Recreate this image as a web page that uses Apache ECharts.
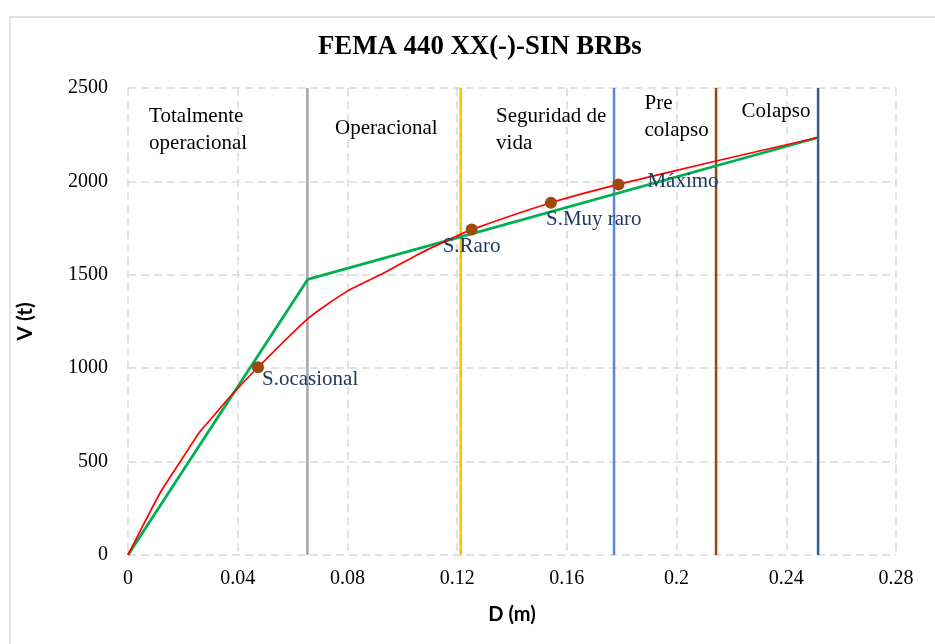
<!DOCTYPE html>
<html>
<head>
<meta charset="utf-8">
<script src="https://cdn.jsdelivr.net/npm/echarts@6/dist/echarts.min.js"></script>
<style>html,body{margin:0;padding:0;background:#fff;}#c{width:935px;height:644px;}</style>
</head>
<body>
<div id="c"></div>
<script>
// Data
var titleText = 'FEMA 440 XX(-)-SIN BRBs';
var xTicks = [0, 0.04, 0.08, 0.12, 0.16, 0.2, 0.24, 0.28];
var yTicks = [0, 500, 1000, 1500, 2000, 2500];
var bilinearD = [0, 0.0655, 0.2516];
var bilinearV = [0, 1475, 2235];
var curveD = [0, 0.0117, 0.0202, 0.0262, 0.0299, 0.0372, 0.0474, 0.0657, 0.0797, 0.0931, 0.1052, 0.115, 0.1253, 0.1542, 0.1788, 0.2144, 0.2516];
var curveV = [0, 332, 526, 660, 723, 847, 1005, 1267, 1410, 1508, 1605, 1675, 1742, 1886, 1984, 2109, 2235];
var pointNames = ['S.ocasional', 'S.Raro', 'S.Muy raro', 'Máximo'];
var pointD = [0.0474, 0.1253, 0.1542, 0.1788];
var pointV = [1005, 1742, 1886, 1984];
var limitNames = ['Operacional', 'Seguridad de vida', 'Pre colapso', 'Colapso', 'Fin'];
var limitD = [0.0654, 0.1213, 0.1772, 0.2144, 0.2516];
var zoneNames = ['Totalmente\noperacional', 'Operacional', 'Seguridad de\nvida', 'Pre\ncolapso', 'Colapso'];
var zoneD = [0.0077, 0.0755, 0.1342, 0.1883, 0.2237];
var zoneV = [2420, 2355, 2420, 2480, 2445];

var serif = '"Liberation Serif", "Times New Roman", serif';
var limitColors = ['#A5A5A5', '#FFC000', '#5B87D6', '#94470F', '#2E5F8F'];
var pointLabelOffsets = [[5, 3], [-28, 7], [-4, 7], [30, -12]];
var zoneLabelOffsets = [[0, 0], [0, 0], [0, 0], [0, -2], [0, 0]];

var series = [];
limitD.forEach(function (d, i) {
  series.push({
    type: 'line', name: limitNames[i], data: [[d, 0], [d, 2500]],
    symbol: 'none', lineStyle: { color: limitColors[i], width: 2.5 }, z: 2, silent: true
  });
});
series.push({
  type: 'line', name: 'Curva', data: curveD.map(function (d, i) { return [d, curveV[i]]; }),
  symbol: 'none', smooth: 0.2, lineStyle: { color: '#FF0000', width: 1.7 }, z: 4
});
series.push({
  type: 'line', name: 'Bilineal', data: bilinearD.map(function (d, i) { return [d, bilinearV[i]]; }),
  symbol: 'none', lineStyle: { color: '#00B050', width: 2.8 }, z: 3
});
series.push({
  type: 'scatter', name: 'Puntos', z: 6,
  symbolSize: 12, itemStyle: { color: '#9C4A0E', opacity: 1 },
  data: pointD.map(function (d, i) {
    return {
      value: [d, pointV[i]], name: pointNames[i],
      label: { show: true, position: 'insideTopLeft', offset: pointLabelOffsets[i] }
    };
  }),
  label: {
    show: true, formatter: '{b}', color: '#1F3864', fontFamily: serif, fontSize: 21,
    align: 'left', verticalAlign: 'top'
  }
});
series.push({
  type: 'scatter', name: 'Zonas', z: 7, symbolSize: 0, silent: true,
  itemStyle: { opacity: 1 },
  data: zoneD.map(function (d, i) {
    return { value: [d, zoneV[i]], name: zoneNames[i], label: { offset: zoneLabelOffsets[i] } };
  }),
  label: {
    show: true, position: 'inside', formatter: '{b}', color: '#000', fontFamily: serif, fontSize: 21,
    align: 'left', verticalAlign: 'top', lineHeight: 27
  }
});

var chart = echarts.init(document.getElementById('c'), null, { renderer: 'canvas' });
chart.setOption({
  animation: false,
  backgroundColor: '#fff',
  graphic: [{
    type: 'rect', shape: { x: 10, y: 17, width: 940, height: 640 },
    style: { fill: 'none', stroke: '#D9D9D9', lineWidth: 1.5 }, silent: true, z: -10
  }],
  title: {
    text: titleText, left: 313, top: 29,
    textStyle: { fontFamily: serif, fontWeight: 'bold', fontSize: 26.8, color: '#000' }
  },
  grid: { left: 128, right: 39, top: 88, bottom: 89, containLabel: false },
  xAxis: {
    type: 'value', min: 0, max: 0.28, interval: 0.04,
    name: 'D (m)', nameLocation: 'middle', nameGap: 50,
    nameTextStyle: { fontFamily: 'Lato, "Open Sans", sans-serif', fontWeight: 'bold', fontSize: 20, color: '#000' },
    axisLine: { show: false }, axisTick: { show: false },
    axisLabel: {
      fontFamily: serif, fontSize: 20, color: '#000', margin: 14,
      formatter: function (v) { var r = Math.round(v * 100) / 100; return xTicks.indexOf(r) >= 0 ? String(r) : ''; }
    },
    splitLine: { show: true, lineStyle: { color: '#D9D9D9', type: [8, 5], width: 1.5 } }
  },
  yAxis: {
    type: 'value', min: 0, max: 2500, interval: 500,
    name: 'V (t)', nameLocation: 'middle', nameGap: 92, nameRotate: 90,
    nameTextStyle: { fontFamily: 'Lato, "Open Sans", sans-serif', fontWeight: 'bold', fontSize: 21, color: '#000' },
    axisLine: { show: false }, axisTick: { show: false },
    axisLabel: {
      fontFamily: serif, fontSize: 20, color: '#000', margin: 20,
      formatter: function (v) { return yTicks.indexOf(v) >= 0 ? String(v) : ''; }
    },
    splitLine: { show: true, lineStyle: { color: '#D9D9D9', type: [8, 5], width: 1.5 } }
  },
  series: series
});
</script>
</body>
</html>
